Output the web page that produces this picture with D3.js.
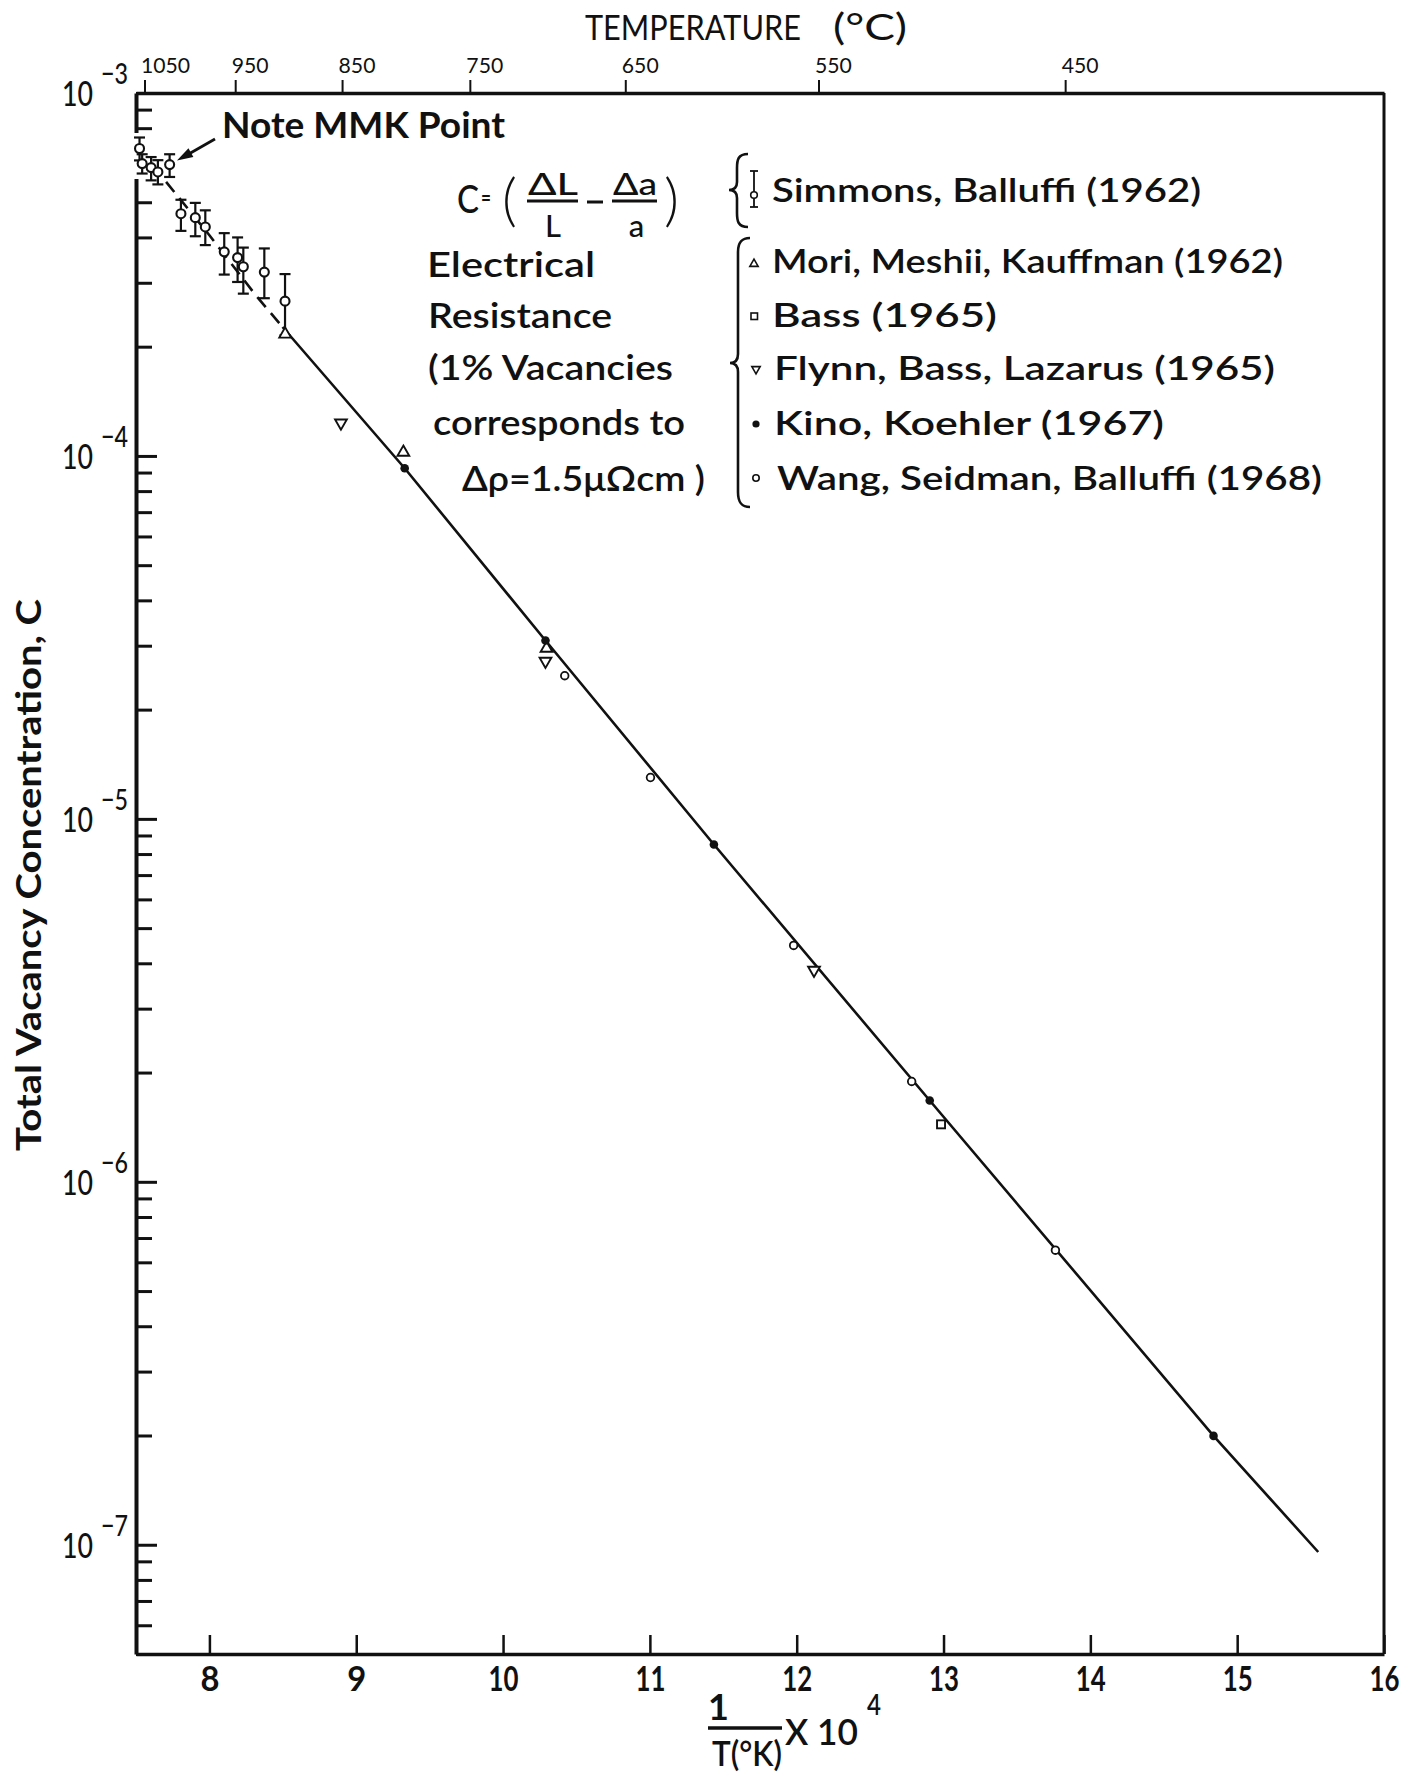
<!DOCTYPE html>
<html><head><meta charset="utf-8">
<script src="https://cdn.jsdelivr.net/npm/d3@7"></script>
<style>
body{margin:0;background:#fff}
svg{display:block}
text{font-family:Lato,"DejaVu Sans",sans-serif;fill:#111}
</style>
</head><body>
<svg id="chart" width="1428" height="1777"></svg>
<script>
// ---------------- data ----------------
const xTickValues = [8, 9, 10, 11, 12, 13, 14, 15, 16];
const tempTicksC = [1050, 950, 850, 750, 650, 550, 450];
const yDecadeExps = [-3, -4, -5, -6, -7];

// Simmons, Balluffi (1962): points with error bars
const simmonsX    = [7.524, 7.542, 7.603, 7.649, 7.729, 7.806, 7.904, 7.972, 8.101, 8.192, 8.231, 8.374, 8.515];
const simmonsC    = [7.03e-4, 6.39e-4, 6.23e-4, 6.06e-4, 6.35e-4, 4.65e-4, 4.535e-4, 4.275e-4, 3.65e-4, 3.52e-4, 3.32e-4, 3.21e-4, 2.67e-4];
const simmonsHigh = [7.54e-4, 6.78e-4, 6.66e-4, 6.53e-4, 6.78e-4, 5.08e-4, 4.98e-4, 4.75e-4, 4.11e-4, 4.00e-4, 3.75e-4, 3.73e-4, 3.17e-4];
const simmonsLow  = [6.52e-4, 6.00e-4, 5.745e-4, 5.60e-4, 5.87e-4, 4.17e-4, 4.03e-4, 3.81e-4, 3.16e-4, 3.015e-4, 2.80e-4, 2.72e-4, 2.15e-4];

// Mori, Meshii, Kauffman (1962)
const moriX = [8.516, 9.321, 10.296];
const moriC = [2.165e-4, 1.023e-4, 2.95e-5];
// Bass (1965)
const bassX = [12.983];
const bassC = [1.44e-6];
// Flynn, Bass, Lazarus (1965)
const flynnX = [8.896, 10.289, 12.118];
const flynnC = [1.233e-4, 2.72e-5, 3.83e-6];
// Kino, Koehler (1967)
const kinoX = [9.33, 10.289, 11.436, 12.906, 14.839];
const kinoC = [9.25e-5, 3.10e-5, 8.5e-6, 1.675e-6, 1.995e-7];
// Wang, Seidman, Balluffi (1968)
const wangX = [10.42, 11.004, 11.979, 12.783, 13.762];
const wangC = [2.48e-5, 1.30e-5, 4.48e-6, 1.89e-6, 6.48e-7];

// drawn curve through the data
const fitX = [7.705, 8.0, 8.316, 8.498, 9.33, 10.289, 11.436, 12.906, 14.839, 15.552];
const fitC = [5.69e-4, 4.055e-4, 2.77e-4, 2.266e-4, 9.25e-5, 3.10e-5, 8.5e-6, 1.675e-6, 1.995e-7, 9.55e-8];
const fitDashedUntil = 8.5;

const legendLabels = [
  "Simmons, Balluffi (1962)",
  "Mori, Meshii, Kauffman (1962)",
  "Bass  (1965)",
  "Flynn, Bass, Lazarus (1965)",
  "Kino, Koehler  (1967)",
  "Wang, Seidman, Balluffi (1968)"
];
const noteLines = ["Electrical", "Resistance", "(1% Vacancies", "corresponds to", "Δρ=1.5μΩcm )"];

// ---------------- layout ----------------
const svg = d3.select("#chart");
const X0 = 136, X1 = 1384, Y0 = 93, Y1 = 1654;
const x = d3.scaleLinear().domain([7.5, 16]).range([X0, X1]);
const y = d3.scaleLog().domain([5e-8, 1e-3]).range([Y1, Y0]);
const INK = "#111";

function txt(str, px, py, o = {}) {
  const t = svg.append("text").attr("x", px).attr("y", py)
    .attr("font-size", o.size || 34)
    .attr("font-weight", o.weight || 700)
    .attr("text-anchor", o.anchor || "start")
    .text(str);
  if (o.len) t.attr("textLength", o.len).attr("lengthAdjust", "spacingAndGlyphs");
  return t;
}

// ---------------- frame ----------------
svg.append("line").attr("x1", X1).attr("x2", X1).attr("y1", Y0).attr("y2", Y1)
  .attr("stroke", INK).attr("stroke-width", 3);

// bottom axis (ticks inward)
const gB = svg.append("g").attr("transform", `translate(0,${Y1})`)
  .call(d3.axisBottom(x).tickValues(xTickValues).tickSize(-19).tickSizeOuter(0).tickPadding(12).tickFormat(d3.format("d")));
gB.select(".domain").attr("stroke", INK).attr("stroke-width", 3.5);
gB.selectAll(".tick line").attr("stroke", INK).attr("stroke-width", 2.5);
gB.selectAll(".tick text").attr("font-size", 35).attr("font-weight", 700)
  .attr("font-family", "Lato, sans-serif").attr("fill", INK)
  .each(function(d){ d3.select(this).attr("textLength", String(d).length > 1 ? 30 : 19).attr("lengthAdjust","spacingAndGlyphs"); });

// top temperature axis (ticks outward)
const tempPos = tempTicksC.map(t => 1e4 / (t + 273.15));
const gT = svg.append("g").attr("transform", `translate(0,${Y0})`)
  .call(d3.axisTop(x).tickValues(tempPos).tickSize(13).tickSizeOuter(0).tickPadding(6)
    .tickFormat((d, i) => tempTicksC[i]));
gT.select(".domain").attr("stroke", INK).attr("stroke-width", 3.5);
gT.selectAll(".tick line").attr("stroke", INK).attr("stroke-width", 2);
gT.selectAll(".tick text").attr("font-size", 21).attr("font-weight", 400)
  .attr("font-family", "Lato, sans-serif").attr("fill", INK)
  .attr("text-anchor", "start").attr("x", -4).attr("y", -20).attr("dy", 0)
  .each(function(d, i){ d3.select(this).attr("textLength", String(tempTicksC[i]).length * 12.3).attr("lengthAdjust","spacingAndGlyphs"); });

// left axis (log, ticks inward)
const allTicks = y.ticks().filter(v => v >= 5e-8 && v <= 1e-3);
const majors = yDecadeExps.map(e => Math.pow(10, e));
const isMajor = v => majors.some(m => Math.abs(v / m - 1) < 1e-6);
const gL = svg.append("g").attr("transform", `translate(${X0},0)`)
  .call(d3.axisLeft(y).tickValues(allTicks).tickSize(-16).tickSizeOuter(0).tickFormat(""));
gL.select(".domain").attr("stroke", INK).attr("stroke-width", 4);
gL.selectAll(".tick line").attr("stroke", INK).attr("stroke-width", 3)
  .attr("x2", d => isMajor(d) ? 21 : 16);

// break in the left axis where the high-temperature points sit
svg.append("rect").attr("x", X0 - 4).attr("y", Y0 + 40).attr("width", 22).attr("height", 46).attr("fill", "#fff");

// decade labels 10^-n
yDecadeExps.forEach(e => {
  const py = y(Math.pow(10, e));
  txt("10", 93, py + 13, {size: 35, anchor: "end", len: 31, weight: 500});
  txt("−" + String(-e), 101, py - 9, {size: 28, weight: 500, len: 27});
});

// ---------------- curve ----------------
const fitPts = fitX.map((v, i) => [v, fitC[i]]);
const line = d3.line().x(d => x(d[0])).y(d => y(d[1]));
const dashedPts = fitPts.filter(d => d[0] <= fitDashedUntil + 0.01);
const solidPts = fitPts.filter(d => d[0] >= dashedPts[dashedPts.length - 1][0]);
svg.append("path").attr("d", line(dashedPts)).attr("fill", "none").attr("stroke", INK)
  .attr("stroke-width", 2.6).attr("stroke-dasharray", "13,8");
svg.append("path").attr("d", line(solidPts)).attr("fill", "none").attr("stroke", INK)
  .attr("stroke-width", 2.6);

// ---------------- markers ----------------
const gS = svg.append("g");
simmonsX.forEach((v, i) => {
  const px = x(v), yh = y(simmonsHigh[i]), yl = y(simmonsLow[i]);
  gS.append("line").attr("x1", px).attr("x2", px).attr("y1", yh).attr("y2", yl).attr("stroke", INK).attr("stroke-width", 2.2);
  [yh, yl].forEach(yy => gS.append("line").attr("x1", px - 5.5).attr("x2", px + 5.5).attr("y1", yy).attr("y2", yy).attr("stroke", INK).attr("stroke-width", 2.2));
});
gS.selectAll("circle").data(simmonsX).join("circle")
  .attr("cx", d => x(d)).attr("cy", (d, i) => y(simmonsC[i])).attr("r", 4.5)
  .attr("fill", "#fff").attr("stroke", INK).attr("stroke-width", 2.1);

const triUp = d3.symbol().type(d3.symbolTriangle).size(60);
svg.append("g").selectAll("path").data(moriX).join("path")
  .attr("d", triUp).attr("transform", (d, i) => `translate(${x(d)},${y(moriC[i])})`)
  .attr("fill", "#fff").attr("stroke", INK).attr("stroke-width", 1.9);
svg.append("g").selectAll("path").data(flynnX).join("path")
  .attr("d", triUp).attr("transform", (d, i) => `translate(${x(d)},${y(flynnC[i])}) rotate(180)`)
  .attr("fill", "#fff").attr("stroke", INK).attr("stroke-width", 1.9);
svg.append("g").selectAll("rect").data(bassX).join("rect")
  .attr("x", d => x(d) - 4).attr("y", (d, i) => y(bassC[i]) - 4).attr("width", 8).attr("height", 8)
  .attr("fill", "#fff").attr("stroke", INK).attr("stroke-width", 1.9);
svg.append("g").selectAll("circle").data(kinoX).join("circle")
  .attr("cx", d => x(d)).attr("cy", (d, i) => y(kinoC[i])).attr("r", 4.3).attr("fill", INK);
svg.append("g").selectAll("circle").data(wangX).join("circle")
  .attr("cx", d => x(d)).attr("cy", (d, i) => y(wangC[i])).attr("r", 3.8)
  .attr("fill", "#fff").attr("stroke", INK).attr("stroke-width", 1.8);

// ---------------- titles ----------------
txt("TEMPERATURE", 585, 40, {size: 34, weight: 400, len: 216});
txt("(°C)", 833, 40, {size: 36, weight: 400, len: 74});

svg.append("text").attr("transform", "translate(41,875) rotate(-90)")
  .attr("text-anchor", "middle").attr("font-size", 34).attr("font-weight", 700)
  .attr("textLength", 552).attr("lengthAdjust", "spacingAndGlyphs")
  .text("Total Vacancy Concentration, C");

// x-axis title: 1/T(°K) x 10^4
txt("1", 718.5, 1720, {size: 36, weight: 700, anchor: "middle"});
svg.append("line").attr("x1", 708).attr("x2", 782).attr("y1", 1728).attr("y2", 1728).attr("stroke", INK).attr("stroke-width", 3.5);
txt("T(°K)", 712, 1766, {size: 34, weight: 600, len: 70});
txt("X 10", 785, 1745, {size: 36, weight: 600, len: 73});
txt("4", 867, 1715, {size: 28, weight: 600, len: 14});

// ---------------- annotations ----------------
txt("Note MMK Point", 222, 138, {size: 36, len: 283});
// arrow
const ax0 = 215, ay0 = 139, ax1 = 177, ay1 = 160.5;
svg.append("line").attr("x1", ax0).attr("y1", ay0).attr("x2", ax1 + 10).attr("y2", ay1 - 5.5)
  .attr("stroke", INK).attr("stroke-width", 2.8);
{
  const ang = Math.atan2(ay1 - ay0, ax1 - ax0);
  const L = 16, W = 5;
  const bx = ax1 - L * Math.cos(ang), by = ay1 - L * Math.sin(ang);
  const nx = -Math.sin(ang) * W, ny = Math.cos(ang) * W;
  svg.append("path").attr("d", `M${ax1},${ay1}L${bx + nx},${by + ny}L${bx - nx},${by - ny}Z`).attr("fill", INK);
}

// formula C = (ΔL/L − Δa/a)
txt("C", 457, 213, {size: 38, weight: 500, len: 22});
txt("=", 481, 206, {size: 22, weight: 700, len: 10});
txt("(", 502, 220, {size: 58, weight: 300});
txt("ΔL", 528, 195, {size: 31, weight: 500, len: 50});
svg.append("line").attr("x1", 527).attr("x2", 578).attr("y1", 201).attr("y2", 201).attr("stroke", INK).attr("stroke-width", 3);
txt("L", 553, 237, {size: 31, weight: 500, anchor: "middle"});
svg.append("line").attr("x1", 587).attr("x2", 603).attr("y1", 202).attr("y2", 202).attr("stroke", INK).attr("stroke-width", 3);
txt("Δa", 613, 195, {size: 31, weight: 500, len: 44});
svg.append("line").attr("x1", 612).attr("x2", 657).attr("y1", 201).attr("y2", 201).attr("stroke", INK).attr("stroke-width", 3);
txt("a", 636.5, 237, {size: 31, weight: 500, anchor: "middle"});
txt(")", 664, 220, {size: 58, weight: 300});

const noteX = [427, 428, 428, 433, 462];
const noteY = [277, 328, 380, 435, 491];
const noteW = [168, 184, 245, 252, 243];
noteLines.forEach((s, i) => txt(s, noteX[i], noteY[i], {size: 34, weight: 600, len: noteW[i]}));

// ---------------- legend ----------------
const legX = [772, 772, 772, 774, 774, 777];
const legY = [202, 273, 327, 380, 435, 490];
const legW = [429, 511, 225, 501, 390, 545];
legendLabels.forEach((s, i) => txt(s, legX[i], legY[i], {size: 33, weight: 600, len: legW[i]}));

// brace for Simmons
svg.append("path").attr("fill", "none").attr("stroke", INK).attr("stroke-width", 2.6)
  .attr("d", "M748,154 C738,154 737,160 737,168 L737,182 C737,188 734,190 729,190 C734,190 737,192 737,198 L737,213 C737,221 738,227 748,227");
// large bracket for resistance data
svg.append("path").attr("fill", "none").attr("stroke", INK).attr("stroke-width", 2.6)
  .attr("d", "M750,238 C741,238 738,243 738,252 L738,354 C738,360 735,363 730,363 C735,363 738,366 738,372 L738,492 C738,502 741,507 750,507");

// legend symbols
const lsx = 754;
svg.append("line").attr("x1", lsx).attr("x2", lsx).attr("y1", 171).attr("y2", 207).attr("stroke", INK).attr("stroke-width", 1.8);
[171, 207].forEach(yy => svg.append("line").attr("x1", lsx - 4).attr("x2", lsx + 4).attr("y1", yy).attr("y2", yy).attr("stroke", INK).attr("stroke-width", 1.8));
svg.append("circle").attr("cx", lsx).attr("cy", 195).attr("r", 3.3).attr("fill", "#fff").attr("stroke", INK).attr("stroke-width", 1.6);

const legSym = d3.symbol().type(d3.symbolTriangle).size(30);
svg.append("path").attr("d", legSym).attr("transform", "translate(754,264)").attr("fill", "#fff").attr("stroke", INK).attr("stroke-width", 1.6);
svg.append("rect").attr("x", 751).attr("y", 313).attr("width", 6.5).attr("height", 6.5).attr("fill", "#fff").attr("stroke", INK).attr("stroke-width", 1.6);
svg.append("path").attr("d", legSym).attr("transform", "translate(756,369) rotate(180)").attr("fill", "#fff").attr("stroke", INK).attr("stroke-width", 1.6);
svg.append("circle").attr("cx", 756).attr("cy", 424).attr("r", 3.6).attr("fill", INK);
svg.append("circle").attr("cx", 756).attr("cy", 478).attr("r", 3.2).attr("fill", "#fff").attr("stroke", INK).attr("stroke-width", 1.6);
</script>
</body></html>
